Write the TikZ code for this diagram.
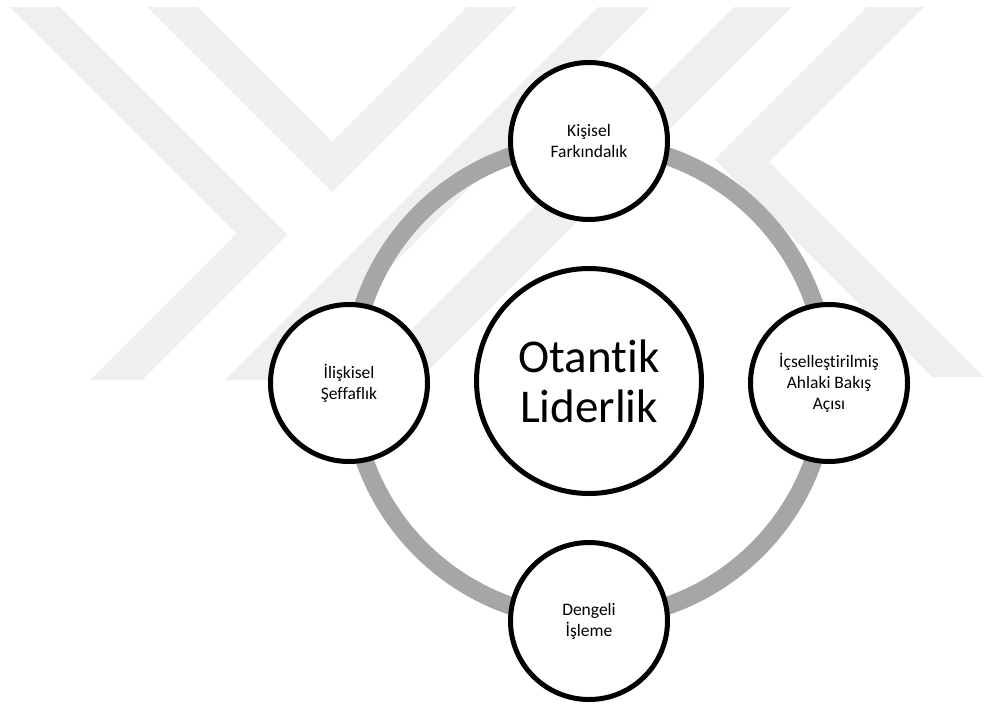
\documentclass[tikz,border=0pt]{standalone}
\usepackage{fontspec}
\setmainfont{Carlito}[Ligatures={NoCommon}]
\definecolor{markgray}{RGB}{239,239,239}
\definecolor{ringgray}{RGB}{166,166,166}
\begin{document}
\begin{tikzpicture}[x=1pt,y=-1pt,
  emblem/.style={fill=markgray,draw=none},
  ringline/.style={draw=ringgray,line width=18pt},
  petal/.style={circle,draw=black,line width=5pt,fill=white,minimum size=157pt,
    inner sep=0pt,align=center,font=\fontsize{17.5}{21}\selectfont,text=black},
  hub/.style={circle,draw=black,line width=5pt,fill=white,minimum size=225pt,
    inner sep=0pt,align=center,font=\fontsize{47}{50}\selectfont,text=black}]
\useasboundingbox[fill=white] (0,0) rectangle (984,707);

% faint emblem in the background
\fill[emblem] (10,7) -- (60,7) -- (287.5,234.5) -- (142,380) -- (90,380) -- (236.5,233.5) -- cycle;
\fill[emblem] (147,7) -- (197,7) -- (332,142) -- (467,7) -- (517,7) -- (332,192) -- cycle;
\fill[emblem] (225,380) -- (277,380) -- (650,7) -- (598,7) -- cycle;
\fill[emblem] (361,380) -- (418,380) -- (791,7) -- (734,7) -- cycle;
\fill[emblem] (867,7) -- (924,7) -- (769,162) -- (984,377) -- (932,377) -- (714.5,159.5) -- cycle;

% cycle ring
\coordinate (c) at (589,381);
\draw[ringline] (c) circle[radius=238];

% hub and surrounding stages
\node[hub] (lead) at (c) {Otantik\\Liderlik};
\node[petal] (aware) at (589,141) {Kişisel\\Farkındalık};
\node[petal] (moral) at (829,383) {İçselleştirilmiş\\Ahlaki Bakış\\Açısı};
\node[petal] (proc) at (589,621) {Dengeli\\İşleme};
\node[petal] (trans) at (349,383) {İlişkisel\\Şeffaflık};
\end{tikzpicture}
\end{document}
